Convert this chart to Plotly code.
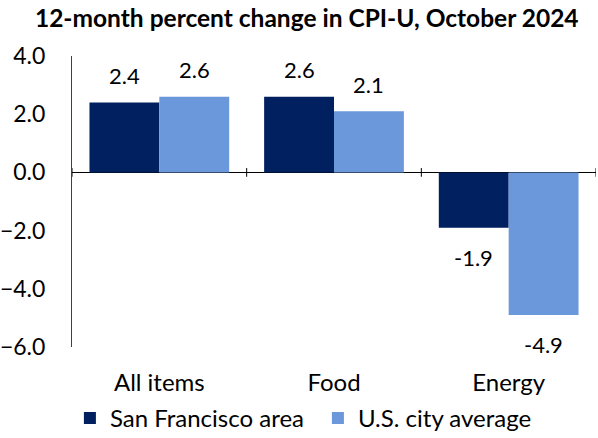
import plotly.graph_objects as go

categories = ["All items", "Food", "Energy"]
sf_values = [2.4, 2.6, -1.9]
us_values = [2.6, 2.1, -4.9]
series_names = ["San Francisco area", "U.S. city average"]
y_ticks = [-6, -4, -2, 0, 2, 4]
title_text = "12-month percent change in CPI-U, October 2024"

NAVY = "#002060"
LIGHT = "#6A98DA"
FONT = "Lato"
FS = 23

fig = go.Figure()
fig.add_trace(go.Bar(x=categories, y=sf_values, name=series_names[0],
                     marker=dict(color=NAVY, line=dict(width=0))))
fig.add_trace(go.Bar(x=categories, y=us_values, name=series_names[1],
                     marker=dict(color=LIGHT, line=dict(width=0))))

annotations = []
for i, (a, b) in enumerate(zip(sf_values, us_values)):
    for off, v in ((-0.2, a), (0.2, b)):
        annotations.append(dict(x=i + off, y=v, xref="x", yref="y",
                                text=f"{v:.1f}", showarrow=False,
                                yshift=27 if v >= 0 else -30,
                                font=dict(family=FONT, size=22, color="#000000")))

shapes = []
for k in range(len(categories) + 1):
    shapes.append(dict(type="line", xref="x", yref="y", x0=k - 0.5, x1=k - 0.5,
                       y0=-0.15, y1=0.15, line=dict(color="#000000", width=1)))

fig.update_layout(
    width=598, height=438,
    margin=dict(l=72, r=2, t=56, b=91, autoexpand=False),
    paper_bgcolor="white", plot_bgcolor="white",
    barmode="group", bargap=0.2, bargroupgap=0,
    font=dict(family=FONT, size=FS, color="#000000"),
    title=dict(text=f"<b>{title_text}</b>", x=0.513, xanchor="center",
               y=1 - 18 / 438, yanchor="middle",
               font=dict(family=FONT, size=24.5, color="#000000")),
    xaxis=dict(range=[-0.5, 2.5], showline=False, showgrid=False, ticks="",
               automargin=False, ticklabelstandoff=19, tickfont=dict(size=24)),
    yaxis=dict(range=[-6, 4], tickvals=y_ticks, tickformat=".1f", showgrid=False,
               showline=True, linecolor="#404040", linewidth=1, ticks="",
               automargin=False,
               zeroline=True, zerolinecolor="#000000", zerolinewidth=1,
               ticklabelstandoff=21, tickfont=dict(size=FS)),
    legend=dict(orientation="h", x=-0.004, xanchor="left", y=-0.245, yanchor="middle",
                font=dict(size=24), itemwidth=30, entrywidth=203,
                traceorder="normal"),
    annotations=annotations,
    shapes=shapes,
)

fig.write_html("out.html", config={"displayModeBar": False},
               post_script="document.body.style.margin='0';document.body.style.padding='0';")
